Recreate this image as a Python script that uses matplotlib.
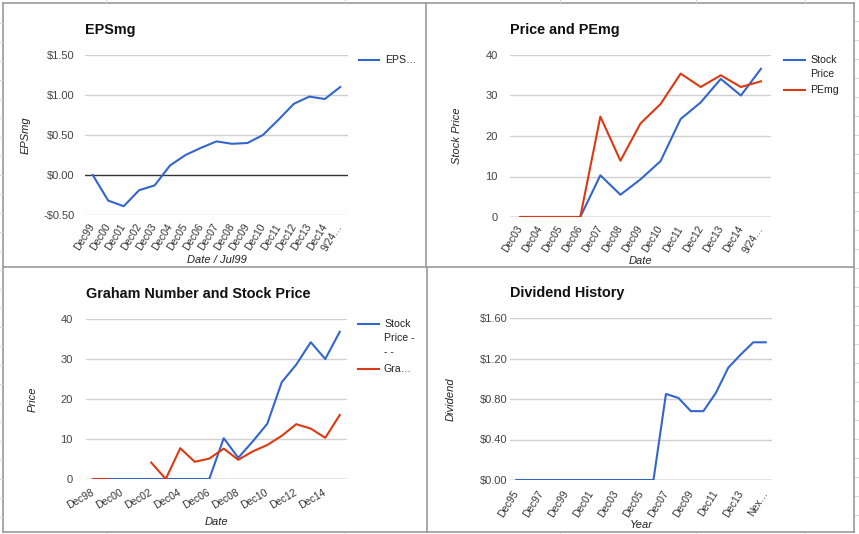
import numpy as np
import matplotlib
matplotlib.use("Agg")
import matplotlib.pyplot as plt
from matplotlib.lines import Line2D
from matplotlib.ticker import FuncFormatter

plt.rcParams["font.family"] = ["Liberation Sans", "DejaVu Sans"]

BLUE = "#3366cc"
RED = "#dc3912"
GRID = "#d0d0d0"

# --- datos ---
eps_dates = ["Dec99", "Dec00", "Dec01", "Dec02", "Dec03", "Dec04", "Dec05", "Dec06",
             "Dec07", "Dec08", "Dec09", "Dec10", "Dec11", "Dec12", "Dec13", "Dec14", "9/24…"]
eps_values = [0.0, -0.32, -0.39, -0.19, -0.13, 0.12, 0.25, 0.34,
              0.42, 0.39, 0.40, 0.50, 0.69, 0.89, 0.98, 0.95, 1.10]

pe_dates = ["Dec03", "Dec04", "Dec05", "Dec06", "Dec07", "Dec08", "Dec09", "Dec10",
            "Dec11", "Dec12", "Dec13", "Dec14", "9/24…"]
pe_price = [0, 0, 0, 0, 10.3, 5.5, 9.3, 13.8, 24.2, 28.3, 34.1, 30.0, 36.6]
pe_pemg = [0, 0, 0, 0, 24.8, 13.9, 23.1, 27.9, 35.4, 32.1, 35.0, 32.1, 33.5]

gr_dates = ["Dec98", "Dec99", "Dec00", "Dec01", "Dec02", "Dec03", "Dec04", "Dec05", "Dec06",
            "Dec07", "Dec08", "Dec09", "Dec10", "Dec11", "Dec12", "Dec13", "Dec14", "9/24…"]
gr_price = [0, 0, 0, 0, 0, 0, 0, 0, 0, 10.2, 5.3, 9.4, 13.8, 24.2, 28.6, 34.2, 30.0, 36.8]
gr_graham = [0, 0, np.nan, np.nan, 4.1, 0, 7.7, 4.3, 5.1, 7.6, 4.8, 6.9, 8.5, 10.8,
             13.7, 12.6, 10.3, 16.0]

div_years = ["Dec95", "Dec96", "Dec97", "Dec98", "Dec99", "Dec00", "Dec01", "Dec02", "Dec03",
             "Dec04", "Dec05", "Dec06", "Dec07", "Dec08", "Dec09", "Dec10", "Dec11", "Dec12",
             "Dec13", "Dec14", "Nex…"]
div_values = [0, 0, 0, 0, 0, 0, 0, 0, 0, 0, 0, 0, 0.85, 0.81, 0.68, 0.68, 0.86, 1.11,
              1.24, 1.36, 1.36]

W, H = 859, 534
fig = plt.figure(figsize=(W / 100, H / 100), dpi=100)


def px_axes(x0, y0, x1, y1):
    return fig.add_axes([x0 / W, 1 - y1 / H, (x1 - x0) / W, (y1 - y0) / H])


def style(ax, n, yticks, fmt, title, ylabel, xlabel, ylab_x, xlab_y, ypad, baseline="#777777"):
    ax.set_xlim(-0.5, n - 0.5)
    ax.set_ylim(yticks[0], yticks[-1])
    for s in ax.spines.values():
        s.set_visible(False)
    ax.set_yticks(yticks)
    ax.yaxis.set_major_formatter(FuncFormatter(fmt))
    ax.tick_params(axis="both", length=0, colors="#444444")
    ax.tick_params(axis="y", pad=ypad, labelsize=8)
    ax.tick_params(axis="x", labelsize=7.4, colors="#333333")
    for y in yticks:
        ax.axhline(y, color=baseline if y == 0 else GRID, lw=1, zorder=1)
    ax.text(0, 1.155, title, transform=ax.transAxes, fontsize=10.4, fontweight="bold",
            va="center", ha="left", color="#111111")
    ax.set_ylabel(ylabel, fontsize=8, style="italic", color="#222222")
    ax.yaxis.set_label_coords(ylab_x, 0.5)
    ax.set_xlabel(xlabel, fontsize=8, style="italic", color="#222222")
    ax.xaxis.set_label_coords(0.5, xlab_y)


def leyenda(entries, x0, x1, xt):
    # entries: (color, [(y, texto), ...]) en pixeles de la figura
    for color, rows in entries:
        fig.add_artist(Line2D([x0 / W, x1 / W], [1 - rows[0][0] / H] * 2, color=color, lw=1.5))
        for y, t in rows:
            fig.text(xt / W, 1 - y / H, t, fontsize=7.6, va="center", ha="left",
                     color="#222222")


def dollars(v, pos):
    return ("-$%.2f" % abs(v)) if v < 0 else ("$%.2f" % v)


def plain(v, pos):
    return "%d" % v


# --- EPSmg ---
ax1 = px_axes(85, 55, 348, 215)
style(ax1, len(eps_dates), [-0.5, 0, 0.5, 1.0, 1.5], dollars, "EPSmg", "EPSmg",
      "Date / Jul99", -0.205, -0.25, 7.5, baseline="#333333")
x = np.arange(len(eps_dates))
ax1.plot(x, eps_values, color=BLUE, lw=1.5, zorder=3)
ax1.set_xticks(x)
ax1.set_xticklabels(eps_dates, rotation=58, ha="right", va="center", rotation_mode="anchor")
ax1.tick_params(axis="x", pad=7)
leyenda([(BLUE, [(60, "EPS…")])], 359, 379, 385)

# --- Price and PEmg ---
ax2 = px_axes(510, 55, 771, 217)
style(ax2, len(pe_dates), [0, 10, 20, 30, 40], plain, "Price and PEmg", "Stock Price",
      "Date", -0.184, -0.24, 9)
x = np.arange(len(pe_dates))
ax2.plot(x, pe_price, color=BLUE, lw=1.5, zorder=3)
ax2.plot(x, pe_pemg, color=RED, lw=1.5, zorder=4)
ax2.set_xticks(x)
ax2.set_xticklabels(pe_dates, rotation=58, ha="right", va="center", rotation_mode="anchor")
ax2.tick_params(axis="x", pad=7)
leyenda([(BLUE, [(60, "Stock"), (74, "Price")]), (RED, [(90, "PEmg")])], 784, 805, 810)

# --- Graham Number ---
ax3 = px_axes(86, 319, 347, 479)
style(ax3, len(gr_dates), [0, 10, 20, 30, 40], plain, "Graham Number and Stock Price",
      "Price", "Date", -0.184, -0.238, 9.5)
x = np.arange(len(gr_dates))
ax3.plot(x, gr_price, color=BLUE, lw=1.5, zorder=3)
ax3.plot(x, gr_graham, color=RED, lw=1.5, zorder=4)
ax3.set_xticks(x[:-1:2])
ax3.set_xticklabels(gr_dates[:-1:2], rotation=30, ha="right", va="center",
                    rotation_mode="anchor")
ax3.tick_params(axis="x", pad=9)
leyenda([(BLUE, [(324, "Stock"), (338, "Price -"), (352, "- -")]), (RED, [(369, "Gra…")])],
        358, 379, 384)

# --- Dividend History ---
ax4 = px_axes(510, 318, 772, 480)
style(ax4, len(div_years), [0, 0.4, 0.8, 1.2, 1.6], dollars, "Dividend History", "Dividend",
      "Year", -0.206, -0.248, 2)
x = np.arange(len(div_years))
ax4.plot(x, div_values, color=BLUE, lw=1.5, zorder=3)
ax4.set_xticks(x[::2])
ax4.set_xticklabels(div_years[::2], rotation=58, ha="right", va="center",
                    rotation_mode="anchor")
ax4.tick_params(axis="x", pad=8)

# marcos de la hoja de calculo
border = "#9a9a9a"
for (x0, y0, x1, y1) in [(3, 3, 854, 3), (3, 532, 854, 532), (3, 3, 3, 532),
                         (854, 3, 854, 532), (3, 267, 854, 267), (426, 3, 426, 267),
                         (427, 267, 427, 532)]:
    fig.add_artist(Line2D([x0 / W, x1 / W], [1 - y0 / H, 1 - y1 / H], color=border, lw=1.2))

sheet = "#d8d8d8"
for y in range(23, 534, 19):
    fig.add_artist(Line2D([0, 2 / W], [1 - y / H] * 2, color=sheet, lw=0.8))
for y in range(21, 534, 19):
    fig.add_artist(Line2D([855 / W, 1], [1 - y / H] * 2, color=sheet, lw=0.8))
for xx in [106, 345, 560, 696, 805]:
    fig.add_artist(Line2D([xx / W] * 2, [1, 1 - 2 / H], color=sheet, lw=0.8))
    fig.add_artist(Line2D([xx / W] * 2, [0, 1.5 / H], color=sheet, lw=0.8))

fig.savefig("out.png", dpi=100)
